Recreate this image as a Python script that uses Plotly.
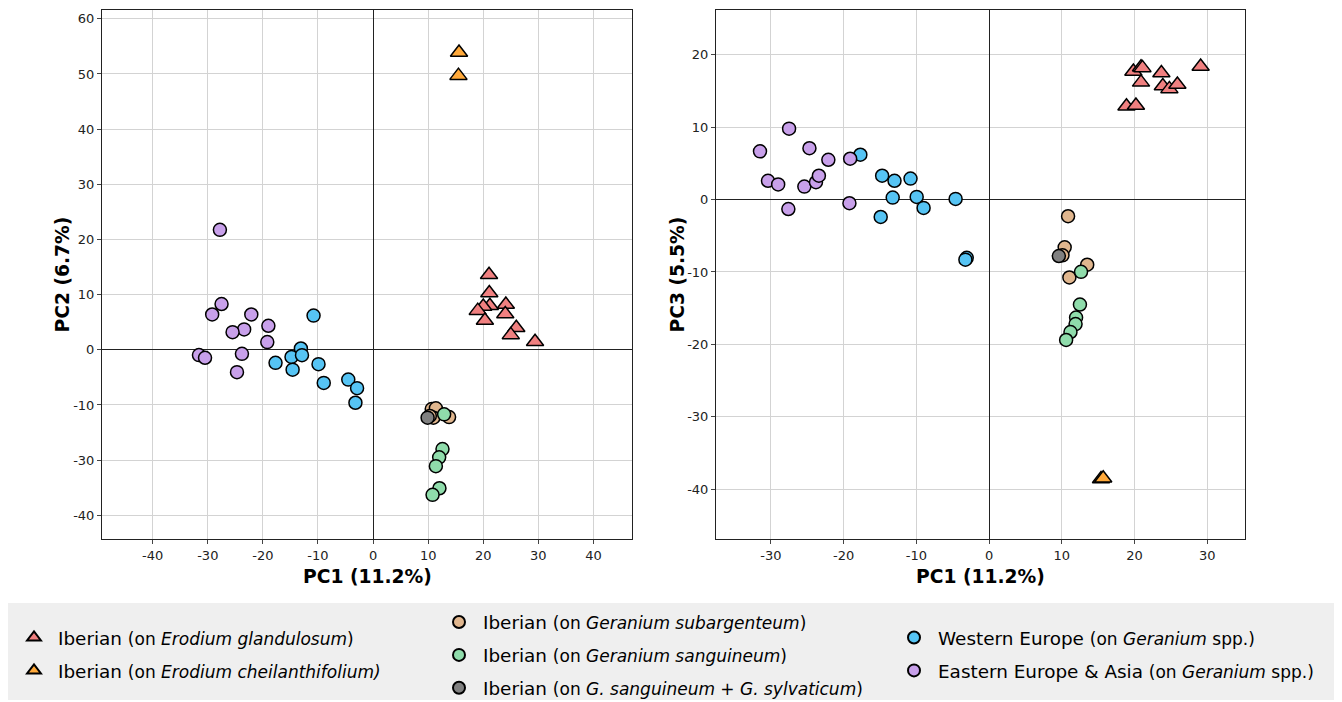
import plotly.graph_objects as go

# ---------------- data (PC1, PC2, PC3) ----------------
# Left panel: PC1 vs PC2 ; Right panel: PC1 vs PC3
red_pc1_l = [21.05, 21.1, 21.2, 20.0, 19.0, 20.3, 24.1, 24.0, 26.0, 25.0, 29.4]
red_pc2_l = [13.6, 10.3, 8.0, 7.85, 7.1, 5.3, 8.2, 6.5, 4.0, 2.7, 1.45]
red_pc1_r = [29.1, 19.85, 20.9, 21.1, 20.9, 23.7, 23.9, 24.8, 25.9, 18.9, 20.2]
red_pc3_r = [18.4, 17.7, 18.3, 18.2, 16.2, 17.5, 15.7, 15.3, 15.9, 12.9, 13.0]

orange_pc1_l = [15.6, 15.5]
orange_pc2_l = [53.9, 49.7]
orange_pc1_r = [15.4, 15.7]
orange_pc3_r = [-38.6, -38.5]

tan_pc1_l = [10.65, 11.4, 10.95, 13.8, 10.3]
tan_pc2_l = [-10.75, -10.6, -12.3, -12.2, -12.0]
tan_pc1_r = [10.87, 10.4, 10.1, 13.5, 11.05]
tan_pc3_r = [-2.3, -6.6, -7.7, -9.0, -10.76]

green_pc1_l = [12.9, 12.6, 12.0, 11.4, 12.05, 10.8]
green_pc2_l = [-11.7, -18.0, -19.5, -21.1, -25.1, -26.3]
green_pc1_r = [12.65, 12.5, 11.97, 11.9, 11.2, 10.6]
green_pc3_r = [-9.98, -14.5, -16.3, -17.2, -18.3, -19.4]

gray_pc1_l = [9.9]
gray_pc2_l = [-12.3]
gray_pc1_r = [9.6]
gray_pc3_r = [-7.8]

blue_pc1_l = [-10.8, -13.1, -14.8, -12.9, -17.7, -14.6, -9.9, -8.95, -4.5, -2.9, -3.2]
blue_pc2_l = [6.2, 0.24, -1.3, -0.97, -2.36, -3.6, -2.6, -6.0, -5.4, -6.95, -9.6]
blue_pc1_r = [-17.7, -14.7, -13.0, -10.8, -13.25, -9.95, -9.0, -4.6, -14.9, -3.07, -3.25]
blue_pc3_r = [6.2, 3.3, 2.6, 2.9, 0.28, 0.37, -1.15, 0.1, -2.4, -8.05, -8.3]

purple_pc1_l = [-27.8, -27.5, -29.2, -22.1, -19.0, -23.4, -25.5, -19.2, -31.6, -30.5, -23.8, -24.7]
purple_pc2_l = [21.75, 8.3, 6.4, 6.4, 4.35, 3.7, 3.2, 1.4, -0.96, -1.45, -0.73, -4.05]
purple_pc1_r = [-27.5, -31.5, -24.7, -22.1, -19.1, -30.4, -29.0, -25.4, -23.8, -23.4, -27.6, -19.2]
purple_pc3_r = [9.8, 6.67, 7.1, 5.5, 5.65, 2.6, 2.1, 1.8, 2.4, 3.3, -1.3, -0.5]

# tick labels
left_x_ticks = [-40, -30, -20, -10, 0, 10, 20, 30, 40]
left_y_tickvals = [-30, -20, -10, 0, 10, 20, 30, 40, 50, 60]
left_y_ticktext = ["-40", "-30", "-10", "0", "10", "20", "30", "40", "50", "60"]
right_x_ticks = [-30, -20, -10, 0, 10, 20, 30]
right_y_ticks = [-40, -30, -20, -10, 0, 10, 20]

S = '<span style="font-size:17px">'
groups = [
    # name, color, symbol, left x, left y, right x, right y, legend
    ("Iberian " + S + "(on <i>Erodium glandulosum</i>)</span>", "#F08080", "triangle-up",
     red_pc1_l, red_pc2_l, red_pc1_r, red_pc3_r, "legend"),
    ("Iberian " + S + "(on <i>Erodium cheilanthifolium)</i></span>", "#FFA93A", "triangle-up",
     orange_pc1_l, orange_pc2_l, orange_pc1_r, orange_pc3_r, "legend"),
    ("Iberian " + S + "(on <i>Geranium subargenteum</i>)</span>", "#E0B68E", "circle",
     tan_pc1_l, tan_pc2_l, tan_pc1_r, tan_pc3_r, "legend2"),
    ("Iberian " + S + "(on <i>Geranium sanguineum</i>)</span>", "#8FDCAB", "circle",
     green_pc1_l, green_pc2_l, green_pc1_r, green_pc3_r, "legend2"),
    ("Iberian " + S + "(on <i>G. sanguineum</i> + <i>G. sylvaticum</i>)</span>", "#808080", "circle",
     gray_pc1_l, gray_pc2_l, gray_pc1_r, gray_pc3_r, "legend2"),
    ("Western Europe " + S + "(on <i>Geranium</i> spp.)</span>", "#56C4F4", "circle",
     blue_pc1_l, blue_pc2_l, blue_pc1_r, blue_pc3_r, "legend3"),
    ("Eastern Europe &amp; Asia " + S + "(on <i>Geranium</i> spp.)</span>", "#C8A0EA", "circle",
     purple_pc1_l, purple_pc2_l, purple_pc1_r, purple_pc3_r, "legend3"),
]

fig = go.Figure()
for i, (name, color, sym, xl, yl, xr, yr, leg) in enumerate(groups):
    size = 15 if sym.startswith("triangle") else 13
    mk = dict(color=color, symbol=sym, size=size, line=dict(color="black", width=1.5))
    fig.add_trace(go.Scatter(x=xl, y=yl, mode="markers", marker=mk, name=name,
                             legend=leg, legendgroup="g%d" % i, showlegend=True,
                             xaxis="x", yaxis="y", hoverinfo="skip"))
    fig.add_trace(go.Scatter(x=xr, y=yr, mode="markers", marker=mk, name=name,
                             legendgroup="g%d" % i, showlegend=False,
                             xaxis="x2", yaxis="y2", hoverinfo="skip"))

W, H = 1342, 702
OFF = 8  # the page's default body margin shifts the figure by 8px right/down
def px(x):
    return (x - OFF) / W
def py(y):
    return 1 - (y - OFF) / H

def hy(vals):
    return [str(v) for v in vals]

axis_common = dict(
    showgrid=True, gridcolor="#d3d3d3", gridwidth=1,
    zeroline=True, zerolinecolor="#222222", zerolinewidth=1,
    showline=True, linecolor="#222222", linewidth=1, mirror=True,
    ticks="outside", ticklen=4, tickcolor="#444444",
    tickfont=dict(family="DejaVu Sans", size=13, color="#222222"),
    automargin=False,
)

legend_common = dict(xanchor="left", yanchor="middle", bgcolor="rgba(0,0,0,0)",
                     font=dict(family="DejaVu Sans", size=18.4, color="black"),
                     tracegroupgap=6, itemsizing="constant", itemwidth=38)

title_font = dict(family="DejaVu Sans", size=18.7, color="black")

fig.update_layout(
    width=W, height=H,
    margin=dict(l=0, r=0, t=0, b=0),
    paper_bgcolor="white", plot_bgcolor="white",
    font=dict(family="DejaVu Sans", color="black"),
    xaxis=dict(domain=[px(102), px(632)], range=[-49.2, 47.0], tickvals=left_x_ticks,
               ticktext=hy(left_x_ticks), anchor="y", **axis_common),
    yaxis=dict(domain=[py(539), py(10)], range=[-34.3, 61.6], tickvals=left_y_tickvals,
               ticktext=left_y_ticktext, anchor="x", **axis_common),
    xaxis2=dict(domain=[px(716), px(1245)], range=[-37.55, 35.2], tickvals=right_x_ticks,
                ticktext=hy(right_x_ticks), anchor="y2", **axis_common),
    yaxis2=dict(domain=[py(539), py(10)], range=[-46.9, 26.2], tickvals=right_y_ticks,
                ticktext=hy(right_y_ticks), anchor="x2", **axis_common),
    legend=dict(x=px(10), y=py(654), **legend_common),
    legend2=dict(x=px(435), y=py(655), **legend_common),
    legend3=dict(x=px(890), y=py(654), **legend_common),
    shapes=[dict(type="rect", xref="paper", yref="paper", x0=px(8), x1=px(1340),
                 y0=py(700), y1=py(603), fillcolor="#efefef", line=dict(width=0),
                 layer="below")],
    annotations=[
        dict(text="<b>PC1 (11.2%)</b>", x=px(367), y=py(576), xref="paper", yref="paper",
             xanchor="center", yanchor="middle", showarrow=False, font=title_font),
        dict(text="<b>PC1 (11.2%)</b>", x=px(980.5), y=py(576), xref="paper", yref="paper",
             xanchor="center", yanchor="middle", showarrow=False, font=title_font),
        dict(text="<b>PC2 (6.7%)</b>", x=px(62), y=py(274.5), xref="paper", yref="paper",
             xanchor="center", yanchor="middle", showarrow=False, textangle=-90, font=title_font),
        dict(text="<b>PC3 (5.5%)</b>", x=px(677), y=py(274.5), xref="paper", yref="paper",
             xanchor="center", yanchor="middle", showarrow=False, textangle=-90, font=title_font),
    ],
)

fig.write_html("out.html", config={"displayModeBar": False})
